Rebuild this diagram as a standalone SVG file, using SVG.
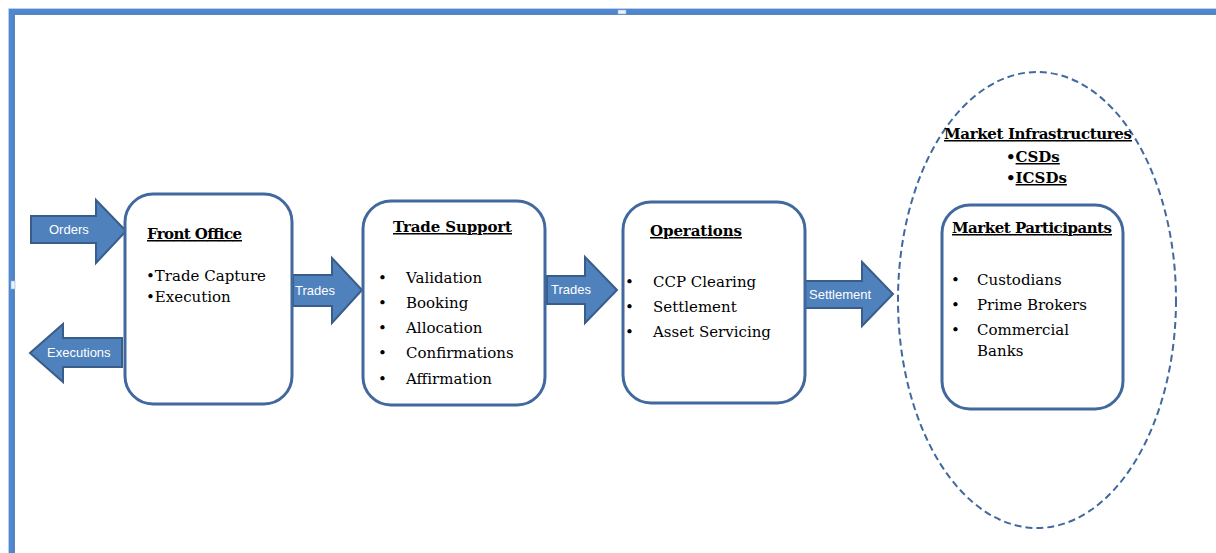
<svg xmlns="http://www.w3.org/2000/svg" width="1216" height="553" viewBox="0 0 1216 553">
<style>
.box{fill:#fff;stroke:#41699D;stroke-width:3}
.arr{fill:#4F81BD;stroke:#385D8A;stroke-width:2;stroke-linejoin:miter}
.lbl{font-family:"Liberation Sans",Arial,sans-serif;font-size:13px;fill:#fff}
.hd{font-family:"DejaVu Serif","Liberation Serif",serif;font-size:15px;font-weight:bold;fill:#000;text-decoration:underline}
.tx{font-family:"DejaVu Serif","Liberation Serif",serif;font-size:15px;fill:#000}
.bul{font-family:"DejaVu Serif","Liberation Serif",serif;font-size:15px;fill:#000}
</style>
<rect width="1216" height="553" fill="#fff"/>
<g id="frame">
<path d="M8.5 553 V8.5 H1216" fill="none" stroke="#BCD0EA" stroke-width="1"/>
<path d="M11.5 553 V11.5 H1216" fill="none" stroke="#4F88D0" stroke-width="5"/>
<path d="M14.3 553 V14.3 H1216" fill="none" stroke="#3C68A8" stroke-width="1"/>
<rect x="618" y="10" width="8" height="4" fill="#EAF2FB" stroke="#8FB0D8" stroke-width="0.6"/>
<rect x="11" y="281" width="4" height="8" fill="#EAF2FB" stroke="#8FB0D8" stroke-width="0.6"/>
</g>
<g id="connectors">
<polygon class="arr" points="31,216 96,216 96,200 126,231 96,263 96,243 31,243"/>
<text class="lbl" x="49" y="234">Orders</text>
<polygon class="arr" points="30,353 63,324 63,338 122,338 122,367 63,367 63,382"/>
<text class="lbl" x="47" y="357">Executions</text>
<polygon class="arr" points="293,275 332,275 332,258 362,290 332,323 332,306 293,306"/>
<text class="lbl" x="295" y="295">Trades</text>
<polygon class="arr" points="547,276 585,276 585,257 617,290 585,323 585,304 547,304"/>
<text class="lbl" x="551" y="294">Trades</text>
<polygon class="arr" points="805,281 862,281 862,262 893,294 862,326 862,308 805,308"/>
<text class="lbl" x="809" y="299">Settlement</text>
</g>
<g id="front-office">
<rect class="box" x="125" y="194" width="167" height="210" rx="28"/>
<text class="hd" x="147" y="239" textLength="95">Front Office</text>
<text class="tx" x="146" y="281">•Trade Capture</text>
<text class="tx" x="146" y="302">•Execution</text>
</g>
<g id="trade-support">
<rect class="box" x="363" y="201" width="182" height="204" rx="28"/>
<text class="hd" x="393" y="232" textLength="119">Trade Support</text>
<text class="bul" x="378" y="283">•</text><text class="tx" x="406" y="283">Validation</text>
<text class="bul" x="378" y="308">•</text><text class="tx" x="406" y="308">Booking</text>
<text class="bul" x="378" y="333">•</text><text class="tx" x="406" y="333">Allocation</text>
<text class="bul" x="378" y="358">•</text><text class="tx" x="406" y="358">Confirmations</text>
<text class="bul" x="378" y="384">•</text><text class="tx" x="406" y="384">Affirmation</text>
</g>
<g id="operations">
<rect class="box" x="623" y="202" width="182" height="201" rx="28"/>
<text class="hd" x="650" y="236" textLength="92">Operations</text>
<text class="bul" x="625" y="287">•</text><text class="tx" x="653" y="287">CCP Clearing</text>
<text class="bul" x="625" y="312">•</text><text class="tx" x="653" y="312">Settlement</text>
<text class="bul" x="625" y="337">•</text><text class="tx" x="653" y="337">Asset Servicing</text>
</g>
<g id="market-infrastructures">
<ellipse cx="1037" cy="300" rx="139" ry="228" fill="none" stroke="#41699D" stroke-width="2" stroke-dasharray="7,4"/>
<text class="hd" x="944" y="139" textLength="188">Market Infrastructures</text>
<text class="tx" x="1006" y="162" font-weight="bold">•<tspan text-decoration="underline">CSDs</tspan></text>
<text class="tx" x="1006" y="183" font-weight="bold">•<tspan text-decoration="underline">ICSDs</tspan></text>
</g>
<g id="market-participants">
<rect class="box" x="942" y="205" width="181" height="204" rx="28"/>
<text class="hd" x="952" y="233" textLength="160">Market Participants</text>
<text class="bul" x="951" y="285">•</text><text class="tx" x="977" y="285">Custodians</text>
<text class="bul" x="951" y="310">•</text><text class="tx" x="977" y="310">Prime Brokers</text>
<text class="bul" x="951" y="335">•</text><text class="tx" x="977" y="335">Commercial</text>
<text class="tx" x="977" y="356">Banks</text>
</g>
</svg>
